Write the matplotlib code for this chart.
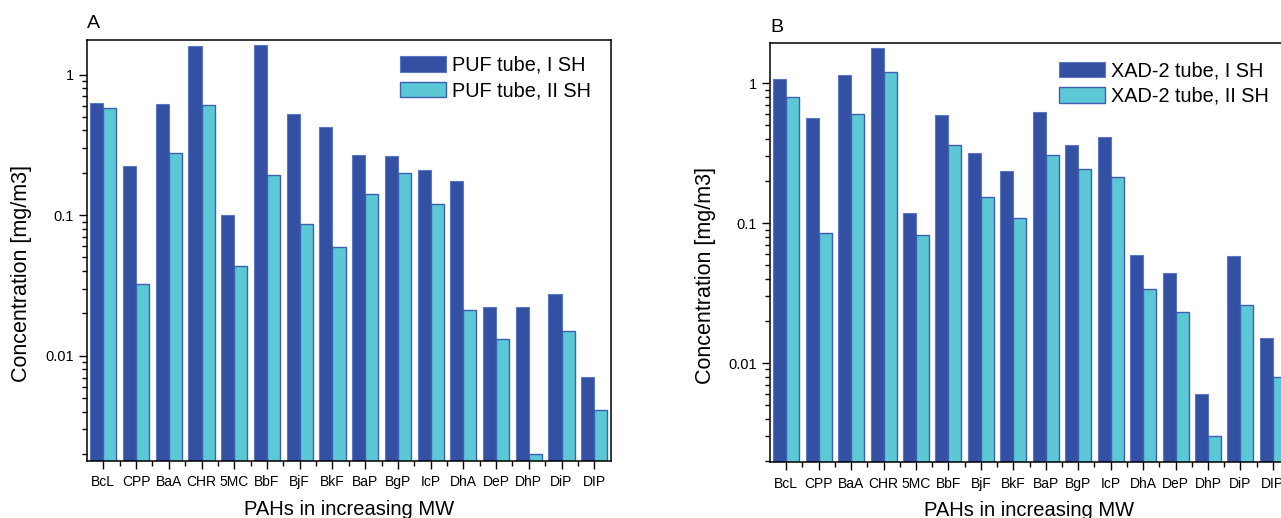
import numpy as np
import matplotlib
matplotlib.use('Agg')
import matplotlib.pyplot as plt
from matplotlib.ticker import LogLocator, NullFormatter, FixedLocator

# PAH names (same order in both panels)
pahs = ['BcL', 'CPP', 'BaA', 'CHR', '5MC', 'BbF', 'BjF', 'BkF',
        'BaP', 'BgP', 'IcP', 'DhA', 'DeP', 'DhP', 'DiP', 'DlP']
pah_labels = ['BcL', 'CPP', 'BaA', 'CHR', '5MC', 'BbF', 'BjF', 'BkF',
              'BaP', 'BgP', 'IcP', 'DhA', 'DeP', 'DhP', 'DiP', 'DIP']

# Panel A - PUF tube
puf_1 = [0.63, 0.223, 0.62, 1.59, 0.100, 1.63, 0.526, 0.421,
         0.267, 0.262, 0.208, 0.174, 0.0224, 0.0224, 0.0275, 0.0071]
puf_2 = [0.574, 0.0324, 0.277, 0.61, 0.0435, 0.194, 0.086, 0.0589,
         0.1425, 0.198, 0.121, 0.0213, 0.0131, 0.0020, 0.0151, 0.0041]

# Panel B - XAD-2 tube
xad_1 = [1.08, 0.56, 1.15, 1.80, 0.119, 0.59, 0.319, 0.237,
         0.62, 0.36, 0.413, 0.059, 0.0441, 0.0060, 0.058, 0.0150]
xad_2 = [0.80, 0.085, 0.605, 1.21, 0.0816, 0.362, 0.153, 0.109,
         0.308, 0.245, 0.214, 0.0337, 0.0230, 0.0030, 0.0259, 0.0080]

dark = '#3450A3'
light = '#5CC8D5'

plt.rcParams['font.family'] = ['Liberation Sans', 'DejaVu Sans']

fig = plt.figure(figsize=(12.81, 5.18), dpi=100)
axA = fig.add_axes([0.0679, 0.111, 0.4088, 0.8118])
axB = fig.add_axes([0.6011, 0.1075, 0.4052, 0.8089])


def draw(ax, v1, v2, lab1, lab2, ylim, leg_anchor, letter, letter_y):
    x = np.arange(len(pahs))
    w = 0.4
    ax.bar(x - w / 2, v1, w, color=dark, edgecolor='#5A76C4', linewidth=0.8, label=lab1)
    ax.bar(x + w / 2, v2, w, color=light, edgecolor='#3D5FB2', linewidth=1.0, label=lab2)
    ax.set_yscale('log')
    ax.set_ylim(*ylim)
    ax.set_xlim(-0.5, len(pahs) - 0.5)
    ax.yaxis.set_major_locator(FixedLocator([0.01, 0.1, 1]))
    ax.set_yticklabels(['0.01', '0.1', '1'])
    ax.yaxis.set_minor_locator(LogLocator(base=10, subs=np.arange(2, 10)))
    ax.yaxis.set_minor_formatter(NullFormatter())
    ax.set_xticks(x)
    ax.set_xticklabels(pah_labels, fontsize=10)
    ax.xaxis.set_minor_locator(FixedLocator(x[:-1] + 0.5))
    ax.tick_params(axis='both', which='major', direction='out', length=6, width=1.0)
    ax.tick_params(axis='both', which='minor', direction='out', length=3.5, width=1.0)
    ax.tick_params(axis='x', which='major', pad=4.5)
    ax.tick_params(axis='y', labelsize=10.5)
    for s in ax.spines.values():
        s.set_linewidth(1.1)
    ax.set_xlabel('PAHs in increasing MW', fontsize=14.5, labelpad=7.5)
    ax.set_ylabel('Concentration [mg/m3]', fontsize=15.5)
    ax.yaxis.set_label_coords(-0.105, 0.445)
    ax.legend(loc='upper left', bbox_to_anchor=leg_anchor, frameon=False,
              fontsize=14.3, handlelength=2.3, handleheight=0.85,
              labelspacing=0.32, handletextpad=0.3, borderpad=0, borderaxespad=0)
    ax.text(0.0, letter_y, letter, transform=ax.transAxes, fontsize=14,
            ha='left', va='baseline')


draw(axA, puf_1, puf_2, 'PUF tube, I SH', 'PUF tube, II SH',
     (0.0018, 1.76), (0.598, 0.962), 'A', 1.029)
draw(axB, xad_1, xad_2, 'XAD-2 tube, I SH', 'XAD-2 tube, II SH',
     (0.00195, 1.93), (0.557, 0.957), 'B', 1.026)

fig.savefig('out.png', dpi=100)
